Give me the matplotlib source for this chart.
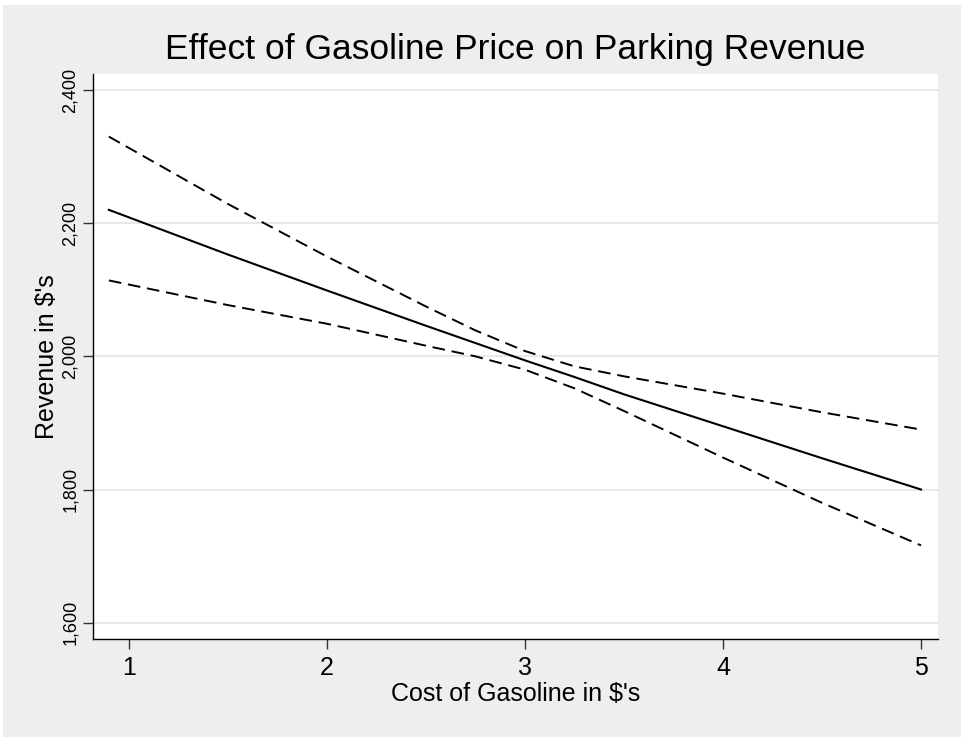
import matplotlib
matplotlib.use('Agg')
import matplotlib.pyplot as plt
from matplotlib.patches import Rectangle
from matplotlib.ticker import FuncFormatter

plt.rcParams['font.family'] = ['Liberation Sans', 'DejaVu Sans']

# values
gas_cost = [0.9, 1.5, 2.0, 2.5, 2.75, 3.0, 3.25, 3.5, 4.0, 4.5, 5.0]
revenue_fit = [2220, 2153, 2099, 2046, 2020, 1994, 1969, 1943, 1895, 1847, 1800]
revenue_upper = [2330, 2229, 2150, 2075, 2039, 2008, 1985, 1970, 1944, 1916, 1890]
revenue_lower = [2114, 2077, 2049, 2016, 2000, 1980, 1952, 1918, 1848, 1780, 1716]

x_ticks = [1, 2, 3, 4, 5]
y_ticks = [1600, 1800, 2000, 2200, 2400]

W, H = 961, 737
fig = plt.figure(figsize=(W / 100, H / 100), dpi=100, facecolor='white')
# grey graph region with thin white strip on top/left
fig.patches.append(Rectangle((3 / W, 0), 1, 1 - 5 / H, transform=fig.transFigure,
                             facecolor='#EEEEEE', edgecolor='none', zorder=-10))

ax = fig.add_axes([93 / W, 1 - 639 / H, (937.7 - 93) / W, (639 - 74) / H])
ax.set_facecolor('white')

ax.plot(gas_cost, revenue_upper, color='black', lw=1.4, dashes=(6.5, 3.5))
ax.plot(gas_cost, revenue_fit, color='black', lw=1.5)
ax.plot(gas_cost, revenue_lower, color='black', lw=1.4, dashes=(6.5, 3.5))

ax.set_xlim(0.82, 5.084)
ax.set_ylim(1575.5, 2424)
ax.set_xticks(x_ticks)
ax.set_yticks(y_ticks)
ax.yaxis.set_major_formatter(FuncFormatter(lambda v, p: f'{int(v):,}'))

ax.grid(True, axis='y', color='#E8E8E8', lw=1.4)
ax.set_axisbelow(True)
for s in ['top', 'right']:
    ax.spines[s].set_visible(False)
for s in ['left', 'bottom']:
    ax.spines[s].set_color('black')
    ax.spines[s].set_linewidth(1.0)

ax.tick_params(axis='x', length=7, width=1, color='#333333', labelsize=18, pad=5)
ax.tick_params(axis='y', length=7, width=1, color='#333333', labelsize=13, pad=3)
for lab in ax.get_yticklabels():
    lab.set_rotation(90)
    lab.set_va('center')

ax.set_xlabel("Cost of Gasoline in $'s", fontsize=18, labelpad=2)
ax.set_ylabel("Revenue in $'s", fontsize=18, labelpad=2)
ax.set_title('Effect of Gasoline Price on Parking Revenue', fontsize=25.5, pad=11)

plt.savefig('out.png', dpi=100, facecolor=fig.get_facecolor())
